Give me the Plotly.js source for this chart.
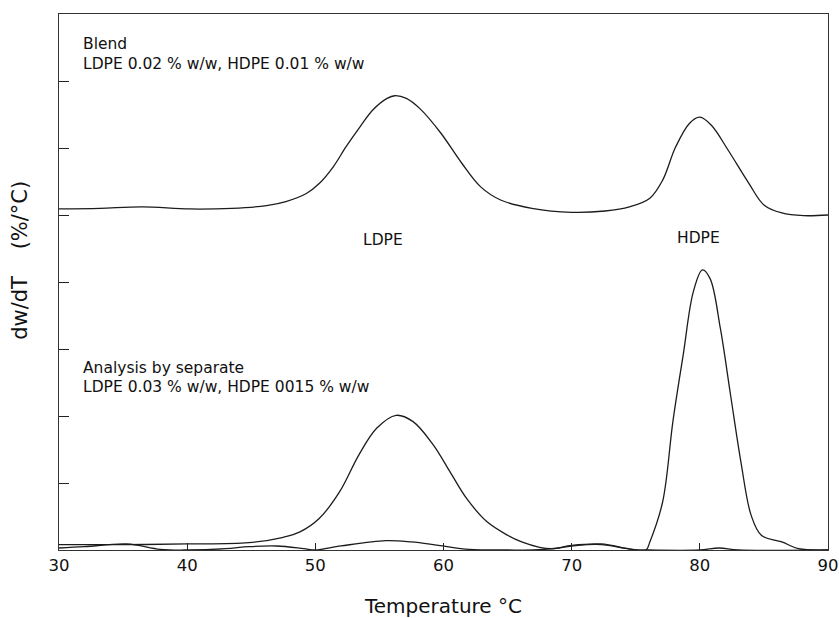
<!DOCTYPE html>
<html>
<head>
<meta charset="utf-8">
<script src="https://cdn.plot.ly/plotly-3.0.1.min.js"></script>
<style>
  html, body { margin: 0; padding: 0; background: #fff; }
  #chart { width: 839px; height: 618px; }
</style>
</head>
<body>
<div id="chart"></div>
<script>
// Derivative thermogravimetric curves, dw/dT versus temperature.

// Blend sample (offset upward on the common axis)
const blendT = [30, 33.2, 36.5, 40.2, 43.5, 46.2, 47.7, 49.3, 50.3, 51.4, 52.4, 53.5, 54.5, 55.6, 56.2, 57.1, 58.2, 59.8, 61.4, 62.9, 64.5, 66.9, 70.0, 72.6, 74.5, 76.1, 77.1, 78.1, 79.2, 80.0, 80.9, 82.2, 83.8, 85.0, 86.4, 88.1, 90];
const blendW = [5.09, 5.10, 5.12, 5.09, 5.10, 5.14, 5.20, 5.32, 5.47, 5.72, 6.02, 6.32, 6.57, 6.74, 6.78, 6.74, 6.58, 6.22, 5.78, 5.42, 5.22, 5.10, 5.04, 5.06, 5.12, 5.25, 5.52, 6.01, 6.37, 6.46, 6.34, 5.97, 5.48, 5.15, 5.03, 4.99, 5.00];

// LDPE analysed on its own
const ldpeT = [30, 35, 40, 44.8, 47.5, 48.8, 50.3, 51.9, 53.4, 54.8, 56.3, 57.6, 59.2, 60.5, 61.8, 63.4, 65.0, 66.1, 67.5, 68.5, 70.0, 72.3, 74.7, 76, 80, 81.5, 83, 90];
const ldpeW = [0.08, 0.08, 0.09, 0.11, 0.19, 0.27, 0.47, 0.87, 1.42, 1.82, 2.01, 1.92, 1.57, 1.17, 0.77, 0.42, 0.22, 0.12, 0.04, 0.02, 0.07, 0.09, 0.01, 0, 0, 0.03, 0, 0];

// HDPE analysed on its own
const hdpeT = [30, 32, 35.3, 37.9, 40, 43, 44.8, 47, 49.1, 50.0, 52, 55.5, 57.5, 59.6, 62, 65, 67, 69, 70.5, 72.3, 74.7, 75.8, 76.1, 77.1, 77.9, 78.7, 79.5, 80.2, 80.8, 81.6, 82.4, 83.2, 84.0, 84.8, 86.4, 87.7, 90];
const hdpeW = [0.03, 0.05, 0.09, 0.01, 0, 0.02, 0.05, 0.06, 0.02, 0, 0.06, 0.14, 0.12, 0.07, 0.01, 0, 0, 0.03, 0.07, 0.08, 0.01, 0, 0.12, 0.72, 1.92, 2.91, 3.86, 4.18, 4.05, 3.31, 2.31, 1.32, 0.52, 0.22, 0.12, 0.02, 0];

const xTicks = [30, 40, 50, 60, 70, 80, 90];

const lineStyle = { color: '#1c1c1c', width: 1.3, shape: 'spline', smoothing: 1.0 };
const FONT = 'DejaVu Sans, Verdana, sans-serif';

const traces = [
  { x: blendT, y: blendW, mode: 'lines', line: lineStyle, name: 'Blend', hoverinfo: 'skip' },
  { x: ldpeT, y: ldpeW, mode: 'lines', line: lineStyle, name: 'LDPE', hoverinfo: 'skip' },
  { x: hdpeT, y: hdpeW, mode: 'lines', line: lineStyle, name: 'HDPE', hoverinfo: 'skip' }
];

const textFont = { family: FONT, size: 15.5, color: '#111' };

const layout = {
  width: 839,
  height: 618,
  margin: { l: 59, r: 11, t: 14, b: 68 },
  paper_bgcolor: '#fff',
  plot_bgcolor: '#fff',
  showlegend: false,
  font: { family: FONT, color: '#111' },
  xaxis: {
    range: [30, 90],
    tickvals: xTicks,
    ticktext: xTicks.map(String),
    ticks: 'inside',
    ticklen: 7,
    tickwidth: 1,
    tickcolor: '#222',
    tickfont: { family: FONT, size: 16.5, color: '#111' },
    showgrid: false,
    zeroline: false,
    showline: true,
    linecolor: '#333',
    linewidth: 1,
    mirror: true,
    title: { text: 'Temperature °C', font: { family: FONT, size: 20, color: '#111' }, standoff: 27 }
  },
  yaxis: {
    range: [0, 8],
    dtick: 1,
    tick0: 0,
    ticks: 'inside',
    ticklen: 10,
    tickwidth: 1,
    tickcolor: '#222',
    showticklabels: false,
    showgrid: false,
    zeroline: false,
    showline: true,
    linecolor: '#333',
    linewidth: 1,
    mirror: true
  },
  annotations: [
    // vertical axis label
    { x: -0.051, y: 0.541, xref: 'paper', yref: 'paper', text: 'dw/dT\u00a0\u00a0\u00a0\u00a0(%/°C)', textangle: -90, showarrow: false, xanchor: 'center', yanchor: 'middle', font: { family: FONT, size: 21, color: '#111' } },
    { x: 31.7, y: 7.55, xref: 'x', yref: 'y', text: 'Blend', showarrow: false, xanchor: 'left', yanchor: 'middle', font: textFont },
    { x: 31.7, y: 7.25, xref: 'x', yref: 'y', text: 'LDPE 0.02 % w/w, HDPE 0.01 % w/w', showarrow: false, xanchor: 'left', yanchor: 'middle', font: textFont },
    { x: 55.3, y: 4.63, xref: 'x', yref: 'y', text: 'LDPE', showarrow: false, xanchor: 'center', yanchor: 'middle', font: textFont },
    { x: 79.9, y: 4.66, xref: 'x', yref: 'y', text: 'HDPE', showarrow: false, xanchor: 'center', yanchor: 'middle', font: textFont },
    { x: 31.7, y: 2.72, xref: 'x', yref: 'y', text: 'Analysis by separate', showarrow: false, xanchor: 'left', yanchor: 'middle', font: textFont },
    { x: 31.7, y: 2.43, xref: 'x', yref: 'y', text: 'LDPE 0.03 % w/w, HDPE 0015 % w/w', showarrow: false, xanchor: 'left', yanchor: 'middle', font: textFont }
  ]
};

Plotly.newPlot('chart', traces, layout, { displayModeBar: false, staticPlot: true });
</script>
</body>
</html>
